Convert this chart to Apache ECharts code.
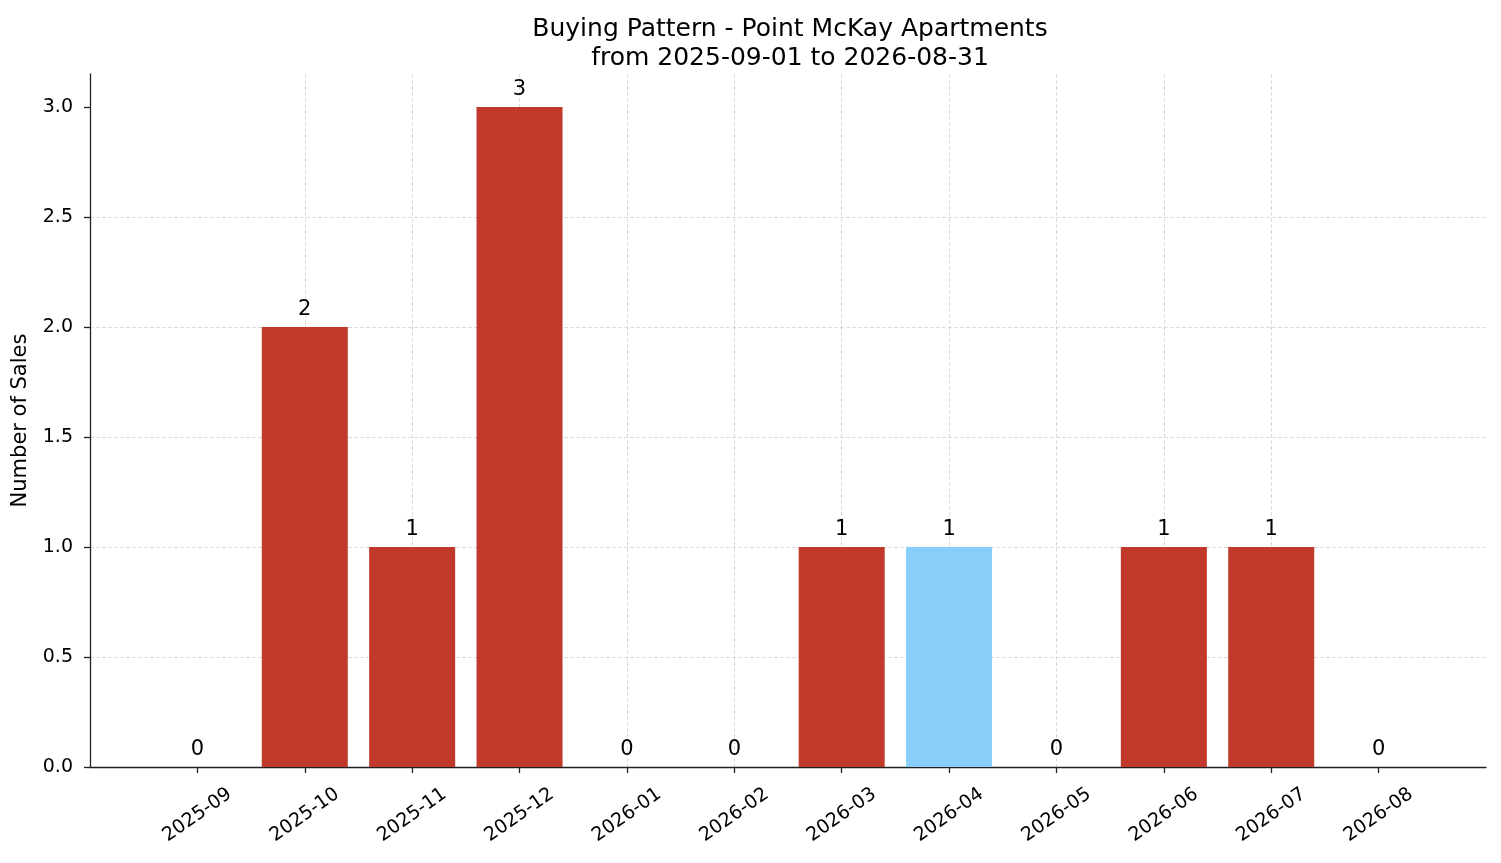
<!DOCTYPE html>
<html lang="en">
<head>
    <meta charset="UTF-8">
    <title>Buying Pattern</title>
    <script src="https://cdn.jsdelivr.net/npm/echarts@6.0.0/dist/echarts.min.js"></script>
</head>
<body style="margin:0">
<div id="container" style="width:1501px;height:863px"></div>

<script type="text/javascript">
    // chart data
    var months = ['2025-09', '2025-10', '2025-11', '2025-12', '2026-01', '2026-02',
        '2026-03', '2026-04', '2026-05', '2026-06', '2026-07', '2026-08'];
    var sales = [0, 2, 1, 3, 0, 0, 1, 1, 0, 1, 1, 0];
    var highlightMonth = '2026-04';
    var yTicks = [0, 0.5, 1, 1.5, 2, 2.5, 3];

    var red = '#c0392b';
    var blue = '#87cefa';
    var font = 'DejaVu Sans';
    var gridStyle = {color: '#d3d3d3', type: [4, 2], width: 0.8};

    var dom = document.getElementById('container');
    var myChart = echarts.init(dom, null, {renderer: 'canvas'});

    var monthIdx = months.map(function (m, i) { return i; });
    var barData = months.map(function (m, i) {
        return {
            value: [i, sales[i]],
            itemStyle: {color: m === highlightMonth ? blue : red}
        };
    });

    var option = {
        animation: false,
        backgroundColor: '#fff',
        title: {
            text: 'Buying Pattern - Point McKay Apartments\nfrom 2025-09-01 to 2026-08-31',
            left: 785,
            top: 10,
            textAlign: 'center',
            textStyle: {fontFamily: font, fontSize: 25, fontWeight: 'normal', color: '#000', lineHeight: 29}
        },
        grid: {left: 90, right: 15, top: 74, bottom: 96, containLabel: false},
        xAxis: {
            type: 'value',
            min: -1,
            max: 12,
            interval: 1,
            axisLine: {onZero: true, lineStyle: {color: '#222', width: 1.3}},
            axisTick: {
                show: true, length: 6,
                lineStyle: {color: '#222', width: 1.3},
                customValues: monthIdx
            },
            axisLabel: {
                rotate: 35,
                margin: 48,
                align: 'center',
                verticalAlign: 'middle',
                fontFamily: font,
                fontSize: 19,
                color: '#000',
                customValues: monthIdx,
                formatter: function (v) { return months[v] || ''; }
            },
            splitLine: {show: true, showMinLine: false, showMaxLine: false, lineStyle: gridStyle}
        },
        yAxis: {
            type: 'value',
            min: 0,
            max: 3.15,
            interval: 0.5,
            name: 'Number of Sales',
            nameLocation: 'middle',
            nameGap: 59,
            nameTextStyle: {fontFamily: font, fontSize: 21, color: '#000'},
            axisLine: {show: true, onZero: false, lineStyle: {color: '#222', width: 1.3}},
            axisTick: {
                show: true, length: 6,
                lineStyle: {color: '#222', width: 1.3},
                customValues: yTicks
            },
            axisLabel: {
                fontFamily: font,
                fontSize: 19,
                color: '#000',
                margin: 17,
                customValues: yTicks,
                formatter: function (v) { return v.toFixed(1); }
            },
            splitLine: {show: true, showMaxLine: false, lineStyle: gridStyle}
        },
        series: [
            {
                type: 'bar',
                barWidth: 86,
                data: barData,
                label: {
                    show: true,
                    position: 'top',
                    distance: 7,
                    fontFamily: font,
                    fontSize: 21,
                    color: '#000',
                    formatter: function (p) { return p.value[1]; }
                }
            }
        ]
    };

    myChart.setOption(option);
    window.addEventListener('resize', myChart.resize);
</script>
</body>
</html>
